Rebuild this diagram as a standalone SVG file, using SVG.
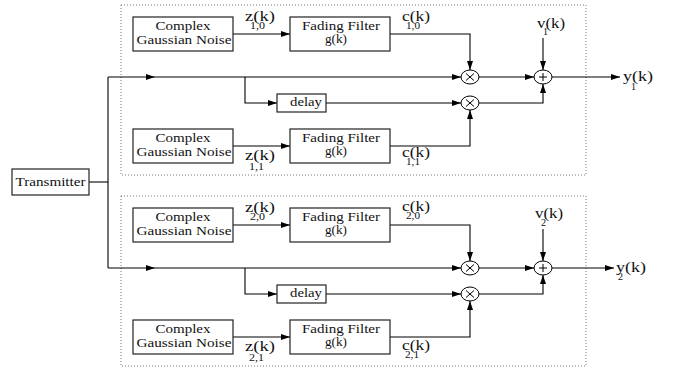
<svg xmlns="http://www.w3.org/2000/svg" width="675" height="368" viewBox="0 0 675 368">
<style>
.bx{fill:#fff;stroke:#222;stroke-width:1.2}
.dot{fill:none;stroke:#777;stroke-width:1;stroke-dasharray:1 2}
.ln{fill:none;stroke:#000;stroke-width:1.1}
.op{fill:#fff;stroke:#000;stroke-width:1}
text{font-family:'Liberation Serif','Times New Roman','DejaVu Serif',serif;fill:#111}
.t{font-size:12.5px;text-anchor:middle}
.l{font-size:14px}
.s{font-size:10px}
</style>
<defs>
<marker id="a" markerWidth="9" markerHeight="6" refX="9" refY="3" orient="auto" markerUnits="userSpaceOnUse">
<path d="M0,0 L9,3 L0,6 z" fill="#000"/>
</marker>
<g id="mul"><ellipse class="op" cx="0" cy="0" rx="9" ry="7"/><path d="M-4,-3.5 L4,3.5 M-4,3.5 L4,-3.5" stroke="#000" stroke-width="1"/></g>
<g id="add"><ellipse class="op" cx="0" cy="0" rx="9" ry="7"/><path d="M-4,0 H4 M0,-4 V4" stroke="#000" stroke-width="1"/></g>
</defs>
<rect width="675" height="368" fill="#fff"/>
<rect class="dot" x="121" y="5" width="465" height="170"/>
<rect class="dot" x="121" y="196" width="465" height="170"/>

<g id="connectors">
<path class="ln" d="M89,182 H108"/>
<path class="ln" d="M108,77 V268"/>
<g id="branch1">
<path class="ln" d="M108,77 H155" marker-end="url(#a)"/>
<path class="ln" d="M155,77 H461" marker-end="url(#a)"/>
<path class="ln" d="M245,77 V103 H277" marker-end="url(#a)"/>
<path class="ln" d="M326,103 H461" marker-end="url(#a)"/>
<path class="ln" d="M233,34 H290" marker-end="url(#a)"/>
<path class="ln" d="M390,34 H470 V70" marker-end="url(#a)"/>
<path class="ln" d="M233,146 H290" marker-end="url(#a)"/>
<path class="ln" d="M390,146 H470 V110" marker-end="url(#a)"/>
<path class="ln" d="M479,77 H534" marker-end="url(#a)"/>
<path class="ln" d="M479,103 H543 V84" marker-end="url(#a)"/>
<path class="ln" d="M543,38 V70" marker-end="url(#a)"/>
<path class="ln" d="M552,77 H620" marker-end="url(#a)"/>
</g>
<g id="branch2">
<path class="ln" d="M108,268 H155" marker-end="url(#a)"/>
<path class="ln" d="M155,268 H461" marker-end="url(#a)"/>
<path class="ln" d="M245,268 V294 H277" marker-end="url(#a)"/>
<path class="ln" d="M326,294 H461" marker-end="url(#a)"/>
<path class="ln" d="M233,225 H290" marker-end="url(#a)"/>
<path class="ln" d="M390,225 H470 V261" marker-end="url(#a)"/>
<path class="ln" d="M233,337 H290" marker-end="url(#a)"/>
<path class="ln" d="M390,337 H470 V301" marker-end="url(#a)"/>
<path class="ln" d="M479,268 H534" marker-end="url(#a)"/>
<path class="ln" d="M479,294 H543 V275" marker-end="url(#a)"/>
<path class="ln" d="M543,229 V261" marker-end="url(#a)"/>
<path class="ln" d="M552,268 H614" marker-end="url(#a)"/>
</g>
</g>

<g id="transmitter"><rect class="bx" x="12" y="169" width="77" height="26"/><text class="t" x="50.5" y="186" textLength="70" lengthAdjust="spacingAndGlyphs">Transmitter</text></g>

<g id="cgn10"><rect class="bx" x="133" y="17" width="100" height="34"/><text class="t" x="183" y="30" textLength="55" lengthAdjust="spacingAndGlyphs">Complex</text><text class="t" x="184" y="44" textLength="95" lengthAdjust="spacingAndGlyphs">Gaussian Noise</text></g>
<g id="ff10"><rect class="bx" x="290" y="17" width="100" height="34"/><text class="t" x="341" y="30" textLength="78" lengthAdjust="spacingAndGlyphs">Fading Filter</text><text class="t" x="336" y="43" textLength="22" lengthAdjust="spacingAndGlyphs">g(k)</text></g>
<g id="delay1"><rect class="bx" x="277" y="94" width="49" height="18"/><text class="t" x="306" y="106" textLength="32" lengthAdjust="spacingAndGlyphs">delay</text></g>
<g id="cgn11"><rect class="bx" x="133" y="129" width="100" height="34"/><text class="t" x="183" y="142" textLength="55" lengthAdjust="spacingAndGlyphs">Complex</text><text class="t" x="184" y="156" textLength="95" lengthAdjust="spacingAndGlyphs">Gaussian Noise</text></g>
<g id="ff11"><rect class="bx" x="290" y="129" width="100" height="34"/><text class="t" x="341" y="142" textLength="78" lengthAdjust="spacingAndGlyphs">Fading Filter</text><text class="t" x="336" y="155" textLength="22" lengthAdjust="spacingAndGlyphs">g(k)</text></g>
<g id="mul10"><use href="#mul" x="470" y="77"/></g>
<g id="mul11"><use href="#mul" x="470" y="103"/></g>
<g id="add1"><use href="#add" x="543" y="77"/></g>

<g id="cgn20"><rect class="bx" x="133" y="208" width="100" height="34"/><text class="t" x="183" y="221" textLength="55" lengthAdjust="spacingAndGlyphs">Complex</text><text class="t" x="184" y="235" textLength="95" lengthAdjust="spacingAndGlyphs">Gaussian Noise</text></g>
<g id="ff20"><rect class="bx" x="290" y="208" width="100" height="34"/><text class="t" x="341" y="221" textLength="78" lengthAdjust="spacingAndGlyphs">Fading Filter</text><text class="t" x="336" y="234" textLength="22" lengthAdjust="spacingAndGlyphs">g(k)</text></g>
<g id="delay2"><rect class="bx" x="277" y="285" width="49" height="18"/><text class="t" x="306" y="297" textLength="32" lengthAdjust="spacingAndGlyphs">delay</text></g>
<g id="cgn21"><rect class="bx" x="133" y="320" width="100" height="34"/><text class="t" x="183" y="333" textLength="55" lengthAdjust="spacingAndGlyphs">Complex</text><text class="t" x="184" y="347" textLength="95" lengthAdjust="spacingAndGlyphs">Gaussian Noise</text></g>
<g id="ff21"><rect class="bx" x="290" y="320" width="100" height="34"/><text class="t" x="341" y="333" textLength="78" lengthAdjust="spacingAndGlyphs">Fading Filter</text><text class="t" x="336" y="346" textLength="22" lengthAdjust="spacingAndGlyphs">g(k)</text></g>
<g id="mul20"><use href="#mul" x="470" y="268"/></g>
<g id="mul21"><use href="#mul" x="470" y="294"/></g>
<g id="add2"><use href="#add" x="543" y="268"/></g>

<g id="labels">
<text class="l"><tspan x="245" y="21" textLength="30" lengthAdjust="spacingAndGlyphs">z(k)</tspan><tspan class="s" x="250" y="29" textLength="15" lengthAdjust="spacingAndGlyphs">1,0</tspan></text>
<text class="l"><tspan x="402" y="21" textLength="28" lengthAdjust="spacingAndGlyphs">c(k)</tspan><tspan class="s" x="406" y="29" textLength="14" lengthAdjust="spacingAndGlyphs">1,0</tspan></text>
<text class="l"><tspan x="245" y="160" textLength="30" lengthAdjust="spacingAndGlyphs">z(k)</tspan><tspan class="s" x="249" y="170" textLength="15" lengthAdjust="spacingAndGlyphs">1,1</tspan></text>
<text class="l"><tspan x="402" y="157" textLength="28" lengthAdjust="spacingAndGlyphs">c(k)</tspan><tspan class="s" x="406" y="165" textLength="14" lengthAdjust="spacingAndGlyphs">1,1</tspan></text>
<text class="l"><tspan x="537" y="28" textLength="28" lengthAdjust="spacingAndGlyphs">v(k)</tspan><tspan class="s" x="543" y="35">1</tspan></text>
<text class="l"><tspan x="623" y="81" textLength="30" lengthAdjust="spacingAndGlyphs">y(k)</tspan><tspan class="s" x="631" y="90">1</tspan></text>

<text class="l"><tspan x="245" y="212" textLength="30" lengthAdjust="spacingAndGlyphs">z(k)</tspan><tspan class="s" x="250" y="220" textLength="15" lengthAdjust="spacingAndGlyphs">2,0</tspan></text>
<text class="l"><tspan x="402" y="211" textLength="28" lengthAdjust="spacingAndGlyphs">c(k)</tspan><tspan class="s" x="406" y="219" textLength="14" lengthAdjust="spacingAndGlyphs">2,0</tspan></text>
<text class="l"><tspan x="245" y="351" textLength="30" lengthAdjust="spacingAndGlyphs">z(k)</tspan><tspan class="s" x="249" y="361" textLength="15" lengthAdjust="spacingAndGlyphs">2,1</tspan></text>
<text class="l"><tspan x="402" y="350" textLength="28" lengthAdjust="spacingAndGlyphs">c(k)</tspan><tspan class="s" x="405" y="358" textLength="14" lengthAdjust="spacingAndGlyphs">2,1</tspan></text>
<text class="l"><tspan x="535" y="218" textLength="28" lengthAdjust="spacingAndGlyphs">v(k)</tspan><tspan class="s" x="541" y="226">2</tspan></text>
<text class="l"><tspan x="616" y="272" textLength="30" lengthAdjust="spacingAndGlyphs">y(k)</tspan><tspan class="s" x="618" y="280">2</tspan></text>
</g>
</svg>
